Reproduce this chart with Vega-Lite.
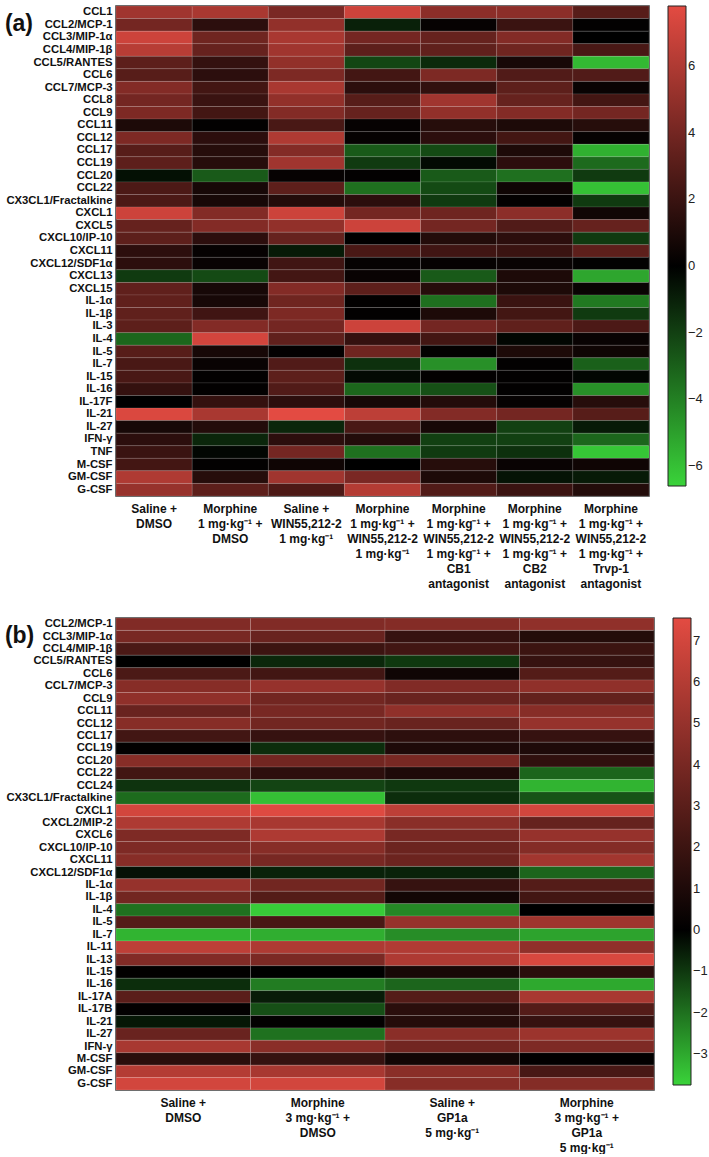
{
"$schema": "https://vega.github.io/schema/vega-lite/v6.json",
"background": "white",
"padding": {"left": 4, "right": 3, "top": 4, "bottom": 0},
"spacing": 26,
"datasets": {
"a": [
{"cytokine":"CCL1","treatment":"Saline +|DMSO","z":5.5},{"cytokine":"CCL1","treatment":"Morphine|1 mg·kg⁻¹ +|DMSO","z":5.8},{"cytokine":"CCL1","treatment":"Saline +|WIN55,212-2|1 mg·kg⁻¹","z":4.2},{"cytokine":"CCL1","treatment":"Morphine|1 mg·kg⁻¹ +|WIN55,212-2|1 mg·kg⁻¹","z":7.0},{"cytokine":"CCL1","treatment":"Morphine|1 mg·kg⁻¹ +|WIN55,212-2|1 mg·kg⁻¹ +|CB1|antagonist","z":4.8},{"cytokine":"CCL1","treatment":"Morphine|1 mg·kg⁻¹ +|WIN55,212-2|1 mg·kg⁻¹ +|CB2|antagonist","z":4.8},{"cytokine":"CCL1","treatment":"Morphine|1 mg·kg⁻¹ +|WIN55,212-2|1 mg·kg⁻¹ +|Trvp-1|antagonist","z":3.0},
{"cytokine":"CCL2/MCP-1","treatment":"Saline +|DMSO","z":4.0},{"cytokine":"CCL2/MCP-1","treatment":"Morphine|1 mg·kg⁻¹ +|DMSO","z":1.5},{"cytokine":"CCL2/MCP-1","treatment":"Saline +|WIN55,212-2|1 mg·kg⁻¹","z":5.0},{"cytokine":"CCL2/MCP-1","treatment":"Morphine|1 mg·kg⁻¹ +|WIN55,212-2|1 mg·kg⁻¹","z":-1.0},{"cytokine":"CCL2/MCP-1","treatment":"Morphine|1 mg·kg⁻¹ +|WIN55,212-2|1 mg·kg⁻¹ +|CB1|antagonist","z":0.2},{"cytokine":"CCL2/MCP-1","treatment":"Morphine|1 mg·kg⁻¹ +|WIN55,212-2|1 mg·kg⁻¹ +|CB2|antagonist","z":2.0},{"cytokine":"CCL2/MCP-1","treatment":"Morphine|1 mg·kg⁻¹ +|WIN55,212-2|1 mg·kg⁻¹ +|Trvp-1|antagonist","z":0.1},
{"cytokine":"CCL3/MIP-1α","treatment":"Saline +|DMSO","z":7.0},{"cytokine":"CCL3/MIP-1α","treatment":"Morphine|1 mg·kg⁻¹ +|DMSO","z":3.8},{"cytokine":"CCL3/MIP-1α","treatment":"Saline +|WIN55,212-2|1 mg·kg⁻¹","z":5.8},{"cytokine":"CCL3/MIP-1α","treatment":"Morphine|1 mg·kg⁻¹ +|WIN55,212-2|1 mg·kg⁻¹","z":4.0},{"cytokine":"CCL3/MIP-1α","treatment":"Morphine|1 mg·kg⁻¹ +|WIN55,212-2|1 mg·kg⁻¹ +|CB1|antagonist","z":3.5},{"cytokine":"CCL3/MIP-1α","treatment":"Morphine|1 mg·kg⁻¹ +|WIN55,212-2|1 mg·kg⁻¹ +|CB2|antagonist","z":4.5},{"cytokine":"CCL3/MIP-1α","treatment":"Morphine|1 mg·kg⁻¹ +|WIN55,212-2|1 mg·kg⁻¹ +|Trvp-1|antagonist","z":0.0},
{"cytokine":"CCL4/MIP-1β","treatment":"Saline +|DMSO","z":6.3},{"cytokine":"CCL4/MIP-1β","treatment":"Morphine|1 mg·kg⁻¹ +|DMSO","z":3.5},{"cytokine":"CCL4/MIP-1β","treatment":"Saline +|WIN55,212-2|1 mg·kg⁻¹","z":5.5},{"cytokine":"CCL4/MIP-1β","treatment":"Morphine|1 mg·kg⁻¹ +|WIN55,212-2|1 mg·kg⁻¹","z":3.2},{"cytokine":"CCL4/MIP-1β","treatment":"Morphine|1 mg·kg⁻¹ +|WIN55,212-2|1 mg·kg⁻¹ +|CB1|antagonist","z":3.3},{"cytokine":"CCL4/MIP-1β","treatment":"Morphine|1 mg·kg⁻¹ +|WIN55,212-2|1 mg·kg⁻¹ +|CB2|antagonist","z":3.8},{"cytokine":"CCL4/MIP-1β","treatment":"Morphine|1 mg·kg⁻¹ +|WIN55,212-2|1 mg·kg⁻¹ +|Trvp-1|antagonist","z":2.5},
{"cytokine":"CCL5/RANTES","treatment":"Saline +|DMSO","z":3.2},{"cytokine":"CCL5/RANTES","treatment":"Morphine|1 mg·kg⁻¹ +|DMSO","z":1.8},{"cytokine":"CCL5/RANTES","treatment":"Saline +|WIN55,212-2|1 mg·kg⁻¹","z":5.0},{"cytokine":"CCL5/RANTES","treatment":"Morphine|1 mg·kg⁻¹ +|WIN55,212-2|1 mg·kg⁻¹","z":-2.2},{"cytokine":"CCL5/RANTES","treatment":"Morphine|1 mg·kg⁻¹ +|WIN55,212-2|1 mg·kg⁻¹ +|CB1|antagonist","z":-1.3},{"cytokine":"CCL5/RANTES","treatment":"Morphine|1 mg·kg⁻¹ +|WIN55,212-2|1 mg·kg⁻¹ +|CB2|antagonist","z":0.8},{"cytokine":"CCL5/RANTES","treatment":"Morphine|1 mg·kg⁻¹ +|WIN55,212-2|1 mg·kg⁻¹ +|Trvp-1|antagonist","z":-5.8},
{"cytokine":"CCL6","treatment":"Saline +|DMSO","z":3.0},{"cytokine":"CCL6","treatment":"Morphine|1 mg·kg⁻¹ +|DMSO","z":1.5},{"cytokine":"CCL6","treatment":"Saline +|WIN55,212-2|1 mg·kg⁻¹","z":4.3},{"cytokine":"CCL6","treatment":"Morphine|1 mg·kg⁻¹ +|WIN55,212-2|1 mg·kg⁻¹","z":2.3},{"cytokine":"CCL6","treatment":"Morphine|1 mg·kg⁻¹ +|WIN55,212-2|1 mg·kg⁻¹ +|CB1|antagonist","z":4.3},{"cytokine":"CCL6","treatment":"Morphine|1 mg·kg⁻¹ +|WIN55,212-2|1 mg·kg⁻¹ +|CB2|antagonist","z":2.8},{"cytokine":"CCL6","treatment":"Morphine|1 mg·kg⁻¹ +|WIN55,212-2|1 mg·kg⁻¹ +|Trvp-1|antagonist","z":2.8},
{"cytokine":"CCL7/MCP-3","treatment":"Saline +|DMSO","z":4.5},{"cytokine":"CCL7/MCP-3","treatment":"Morphine|1 mg·kg⁻¹ +|DMSO","z":2.3},{"cytokine":"CCL7/MCP-3","treatment":"Saline +|WIN55,212-2|1 mg·kg⁻¹","z":5.8},{"cytokine":"CCL7/MCP-3","treatment":"Morphine|1 mg·kg⁻¹ +|WIN55,212-2|1 mg·kg⁻¹","z":1.5},{"cytokine":"CCL7/MCP-3","treatment":"Morphine|1 mg·kg⁻¹ +|WIN55,212-2|1 mg·kg⁻¹ +|CB1|antagonist","z":1.7},{"cytokine":"CCL7/MCP-3","treatment":"Morphine|1 mg·kg⁻¹ +|WIN55,212-2|1 mg·kg⁻¹ +|CB2|antagonist","z":3.2},{"cytokine":"CCL7/MCP-3","treatment":"Morphine|1 mg·kg⁻¹ +|WIN55,212-2|1 mg·kg⁻¹ +|Trvp-1|antagonist","z":0.3},
{"cytokine":"CCL8","treatment":"Saline +|DMSO","z":4.0},{"cytokine":"CCL8","treatment":"Morphine|1 mg·kg⁻¹ +|DMSO","z":2.0},{"cytokine":"CCL8","treatment":"Saline +|WIN55,212-2|1 mg·kg⁻¹","z":5.0},{"cytokine":"CCL8","treatment":"Morphine|1 mg·kg⁻¹ +|WIN55,212-2|1 mg·kg⁻¹","z":3.0},{"cytokine":"CCL8","treatment":"Morphine|1 mg·kg⁻¹ +|WIN55,212-2|1 mg·kg⁻¹ +|CB1|antagonist","z":5.5},{"cytokine":"CCL8","treatment":"Morphine|1 mg·kg⁻¹ +|WIN55,212-2|1 mg·kg⁻¹ +|CB2|antagonist","z":3.5},{"cytokine":"CCL8","treatment":"Morphine|1 mg·kg⁻¹ +|WIN55,212-2|1 mg·kg⁻¹ +|Trvp-1|antagonist","z":2.3},
{"cytokine":"CCL9","treatment":"Saline +|DMSO","z":4.3},{"cytokine":"CCL9","treatment":"Morphine|1 mg·kg⁻¹ +|DMSO","z":2.3},{"cytokine":"CCL9","treatment":"Saline +|WIN55,212-2|1 mg·kg⁻¹","z":4.5},{"cytokine":"CCL9","treatment":"Morphine|1 mg·kg⁻¹ +|WIN55,212-2|1 mg·kg⁻¹","z":3.5},{"cytokine":"CCL9","treatment":"Morphine|1 mg·kg⁻¹ +|WIN55,212-2|1 mg·kg⁻¹ +|CB1|antagonist","z":5.0},{"cytokine":"CCL9","treatment":"Morphine|1 mg·kg⁻¹ +|WIN55,212-2|1 mg·kg⁻¹ +|CB2|antagonist","z":4.5},{"cytokine":"CCL9","treatment":"Morphine|1 mg·kg⁻¹ +|WIN55,212-2|1 mg·kg⁻¹ +|Trvp-1|antagonist","z":4.0},
{"cytokine":"CCL11","treatment":"Saline +|DMSO","z":1.0},{"cytokine":"CCL11","treatment":"Morphine|1 mg·kg⁻¹ +|DMSO","z":0.1},{"cytokine":"CCL11","treatment":"Saline +|WIN55,212-2|1 mg·kg⁻¹","z":2.5},{"cytokine":"CCL11","treatment":"Morphine|1 mg·kg⁻¹ +|WIN55,212-2|1 mg·kg⁻¹","z":0.2},{"cytokine":"CCL11","treatment":"Morphine|1 mg·kg⁻¹ +|WIN55,212-2|1 mg·kg⁻¹ +|CB1|antagonist","z":1.3},{"cytokine":"CCL11","treatment":"Morphine|1 mg·kg⁻¹ +|WIN55,212-2|1 mg·kg⁻¹ +|CB2|antagonist","z":1.0},{"cytokine":"CCL11","treatment":"Morphine|1 mg·kg⁻¹ +|WIN55,212-2|1 mg·kg⁻¹ +|Trvp-1|antagonist","z":1.3},
{"cytokine":"CCL12","treatment":"Saline +|DMSO","z":4.3},{"cytokine":"CCL12","treatment":"Morphine|1 mg·kg⁻¹ +|DMSO","z":1.5},{"cytokine":"CCL12","treatment":"Saline +|WIN55,212-2|1 mg·kg⁻¹","z":6.0},{"cytokine":"CCL12","treatment":"Morphine|1 mg·kg⁻¹ +|WIN55,212-2|1 mg·kg⁻¹","z":0.2},{"cytokine":"CCL12","treatment":"Morphine|1 mg·kg⁻¹ +|WIN55,212-2|1 mg·kg⁻¹ +|CB1|antagonist","z":1.5},{"cytokine":"CCL12","treatment":"Morphine|1 mg·kg⁻¹ +|WIN55,212-2|1 mg·kg⁻¹ +|CB2|antagonist","z":2.3},{"cytokine":"CCL12","treatment":"Morphine|1 mg·kg⁻¹ +|WIN55,212-2|1 mg·kg⁻¹ +|Trvp-1|antagonist","z":0.2},
{"cytokine":"CCL17","treatment":"Saline +|DMSO","z":3.0},{"cytokine":"CCL17","treatment":"Morphine|1 mg·kg⁻¹ +|DMSO","z":1.3},{"cytokine":"CCL17","treatment":"Saline +|WIN55,212-2|1 mg·kg⁻¹","z":4.5},{"cytokine":"CCL17","treatment":"Morphine|1 mg·kg⁻¹ +|WIN55,212-2|1 mg·kg⁻¹","z":-2.8},{"cytokine":"CCL17","treatment":"Morphine|1 mg·kg⁻¹ +|WIN55,212-2|1 mg·kg⁻¹ +|CB1|antagonist","z":-2.3},{"cytokine":"CCL17","treatment":"Morphine|1 mg·kg⁻¹ +|WIN55,212-2|1 mg·kg⁻¹ +|CB2|antagonist","z":1.0},{"cytokine":"CCL17","treatment":"Morphine|1 mg·kg⁻¹ +|WIN55,212-2|1 mg·kg⁻¹ +|Trvp-1|antagonist","z":-5.5},
{"cytokine":"CCL19","treatment":"Saline +|DMSO","z":3.2},{"cytokine":"CCL19","treatment":"Morphine|1 mg·kg⁻¹ +|DMSO","z":1.3},{"cytokine":"CCL19","treatment":"Saline +|WIN55,212-2|1 mg·kg⁻¹","z":5.5},{"cytokine":"CCL19","treatment":"Morphine|1 mg·kg⁻¹ +|WIN55,212-2|1 mg·kg⁻¹","z":-1.8},{"cytokine":"CCL19","treatment":"Morphine|1 mg·kg⁻¹ +|WIN55,212-2|1 mg·kg⁻¹ +|CB1|antagonist","z":-0.3},{"cytokine":"CCL19","treatment":"Morphine|1 mg·kg⁻¹ +|WIN55,212-2|1 mg·kg⁻¹ +|CB2|antagonist","z":1.5},{"cytokine":"CCL19","treatment":"Morphine|1 mg·kg⁻¹ +|WIN55,212-2|1 mg·kg⁻¹ +|Trvp-1|antagonist","z":-3.3},
{"cytokine":"CCL20","treatment":"Saline +|DMSO","z":-0.5},{"cytokine":"CCL20","treatment":"Morphine|1 mg·kg⁻¹ +|DMSO","z":-2.8},{"cytokine":"CCL20","treatment":"Saline +|WIN55,212-2|1 mg·kg⁻¹","z":0.2},{"cytokine":"CCL20","treatment":"Morphine|1 mg·kg⁻¹ +|WIN55,212-2|1 mg·kg⁻¹","z":0.1},{"cytokine":"CCL20","treatment":"Morphine|1 mg·kg⁻¹ +|WIN55,212-2|1 mg·kg⁻¹ +|CB1|antagonist","z":-2.8},{"cytokine":"CCL20","treatment":"Morphine|1 mg·kg⁻¹ +|WIN55,212-2|1 mg·kg⁻¹ +|CB2|antagonist","z":-3.5},{"cytokine":"CCL20","treatment":"Morphine|1 mg·kg⁻¹ +|WIN55,212-2|1 mg·kg⁻¹ +|Trvp-1|antagonist","z":-1.8},
{"cytokine":"CCL22","treatment":"Saline +|DMSO","z":2.6},{"cytokine":"CCL22","treatment":"Morphine|1 mg·kg⁻¹ +|DMSO","z":0.8},{"cytokine":"CCL22","treatment":"Saline +|WIN55,212-2|1 mg·kg⁻¹","z":3.2},{"cytokine":"CCL22","treatment":"Morphine|1 mg·kg⁻¹ +|WIN55,212-2|1 mg·kg⁻¹","z":-3.5},{"cytokine":"CCL22","treatment":"Morphine|1 mg·kg⁻¹ +|WIN55,212-2|1 mg·kg⁻¹ +|CB1|antagonist","z":-2.3},{"cytokine":"CCL22","treatment":"Morphine|1 mg·kg⁻¹ +|WIN55,212-2|1 mg·kg⁻¹ +|CB2|antagonist","z":0.5},{"cytokine":"CCL22","treatment":"Morphine|1 mg·kg⁻¹ +|WIN55,212-2|1 mg·kg⁻¹ +|Trvp-1|antagonist","z":-6.0},
{"cytokine":"CX3CL1/Fractalkine","treatment":"Saline +|DMSO","z":2.6},{"cytokine":"CX3CL1/Fractalkine","treatment":"Morphine|1 mg·kg⁻¹ +|DMSO","z":0.8},{"cytokine":"CX3CL1/Fractalkine","treatment":"Saline +|WIN55,212-2|1 mg·kg⁻¹","z":1.2},{"cytokine":"CX3CL1/Fractalkine","treatment":"Morphine|1 mg·kg⁻¹ +|WIN55,212-2|1 mg·kg⁻¹","z":1.5},{"cytokine":"CX3CL1/Fractalkine","treatment":"Morphine|1 mg·kg⁻¹ +|WIN55,212-2|1 mg·kg⁻¹ +|CB1|antagonist","z":-1.8},{"cytokine":"CX3CL1/Fractalkine","treatment":"Morphine|1 mg·kg⁻¹ +|WIN55,212-2|1 mg·kg⁻¹ +|CB2|antagonist","z":0.1},{"cytokine":"CX3CL1/Fractalkine","treatment":"Morphine|1 mg·kg⁻¹ +|WIN55,212-2|1 mg·kg⁻¹ +|Trvp-1|antagonist","z":-1.8},
{"cytokine":"CXCL1","treatment":"Saline +|DMSO","z":7.0},{"cytokine":"CXCL1","treatment":"Morphine|1 mg·kg⁻¹ +|DMSO","z":4.5},{"cytokine":"CXCL1","treatment":"Saline +|WIN55,212-2|1 mg·kg⁻¹","z":7.0},{"cytokine":"CXCL1","treatment":"Morphine|1 mg·kg⁻¹ +|WIN55,212-2|1 mg·kg⁻¹","z":4.0},{"cytokine":"CXCL1","treatment":"Morphine|1 mg·kg⁻¹ +|WIN55,212-2|1 mg·kg⁻¹ +|CB1|antagonist","z":3.8},{"cytokine":"CXCL1","treatment":"Morphine|1 mg·kg⁻¹ +|WIN55,212-2|1 mg·kg⁻¹ +|CB2|antagonist","z":4.8},{"cytokine":"CXCL1","treatment":"Morphine|1 mg·kg⁻¹ +|WIN55,212-2|1 mg·kg⁻¹ +|Trvp-1|antagonist","z":0.6},
{"cytokine":"CXCL5","treatment":"Saline +|DMSO","z":3.5},{"cytokine":"CXCL5","treatment":"Morphine|1 mg·kg⁻¹ +|DMSO","z":4.5},{"cytokine":"CXCL5","treatment":"Saline +|WIN55,212-2|1 mg·kg⁻¹","z":5.0},{"cytokine":"CXCL5","treatment":"Morphine|1 mg·kg⁻¹ +|WIN55,212-2|1 mg·kg⁻¹","z":7.0},{"cytokine":"CXCL5","treatment":"Morphine|1 mg·kg⁻¹ +|WIN55,212-2|1 mg·kg⁻¹ +|CB1|antagonist","z":4.0},{"cytokine":"CXCL5","treatment":"Morphine|1 mg·kg⁻¹ +|WIN55,212-2|1 mg·kg⁻¹ +|CB2|antagonist","z":2.8},{"cytokine":"CXCL5","treatment":"Morphine|1 mg·kg⁻¹ +|WIN55,212-2|1 mg·kg⁻¹ +|Trvp-1|antagonist","z":3.5},
{"cytokine":"CXCL10/IP-10","treatment":"Saline +|DMSO","z":3.2},{"cytokine":"CXCL10/IP-10","treatment":"Morphine|1 mg·kg⁻¹ +|DMSO","z":1.5},{"cytokine":"CXCL10/IP-10","treatment":"Saline +|WIN55,212-2|1 mg·kg⁻¹","z":3.5},{"cytokine":"CXCL10/IP-10","treatment":"Morphine|1 mg·kg⁻¹ +|WIN55,212-2|1 mg·kg⁻¹","z":0.0},{"cytokine":"CXCL10/IP-10","treatment":"Morphine|1 mg·kg⁻¹ +|WIN55,212-2|1 mg·kg⁻¹ +|CB1|antagonist","z":1.2},{"cytokine":"CXCL10/IP-10","treatment":"Morphine|1 mg·kg⁻¹ +|WIN55,212-2|1 mg·kg⁻¹ +|CB2|antagonist","z":1.5},{"cytokine":"CXCL10/IP-10","treatment":"Morphine|1 mg·kg⁻¹ +|WIN55,212-2|1 mg·kg⁻¹ +|Trvp-1|antagonist","z":-1.8},
{"cytokine":"CXCL11","treatment":"Saline +|DMSO","z":1.5},{"cytokine":"CXCL11","treatment":"Morphine|1 mg·kg⁻¹ +|DMSO","z":0.2},{"cytokine":"CXCL11","treatment":"Saline +|WIN55,212-2|1 mg·kg⁻¹","z":-0.8},{"cytokine":"CXCL11","treatment":"Morphine|1 mg·kg⁻¹ +|WIN55,212-2|1 mg·kg⁻¹","z":2.5},{"cytokine":"CXCL11","treatment":"Morphine|1 mg·kg⁻¹ +|WIN55,212-2|1 mg·kg⁻¹ +|CB1|antagonist","z":2.2},{"cytokine":"CXCL11","treatment":"Morphine|1 mg·kg⁻¹ +|WIN55,212-2|1 mg·kg⁻¹ +|CB2|antagonist","z":2.0},{"cytokine":"CXCL11","treatment":"Morphine|1 mg·kg⁻¹ +|WIN55,212-2|1 mg·kg⁻¹ +|Trvp-1|antagonist","z":3.2},
{"cytokine":"CXCL12/SDF1α","treatment":"Saline +|DMSO","z":1.5},{"cytokine":"CXCL12/SDF1α","treatment":"Morphine|1 mg·kg⁻¹ +|DMSO","z":0.3},{"cytokine":"CXCL12/SDF1α","treatment":"Saline +|WIN55,212-2|1 mg·kg⁻¹","z":2.2},{"cytokine":"CXCL12/SDF1α","treatment":"Morphine|1 mg·kg⁻¹ +|WIN55,212-2|1 mg·kg⁻¹","z":0.2},{"cytokine":"CXCL12/SDF1α","treatment":"Morphine|1 mg·kg⁻¹ +|WIN55,212-2|1 mg·kg⁻¹ +|CB1|antagonist","z":0.2},{"cytokine":"CXCL12/SDF1α","treatment":"Morphine|1 mg·kg⁻¹ +|WIN55,212-2|1 mg·kg⁻¹ +|CB2|antagonist","z":0.3},{"cytokine":"CXCL12/SDF1α","treatment":"Morphine|1 mg·kg⁻¹ +|WIN55,212-2|1 mg·kg⁻¹ +|Trvp-1|antagonist","z":0.1},
{"cytokine":"CXCL13","treatment":"Saline +|DMSO","z":-1.8},{"cytokine":"CXCL13","treatment":"Morphine|1 mg·kg⁻¹ +|DMSO","z":-2.3},{"cytokine":"CXCL13","treatment":"Saline +|WIN55,212-2|1 mg·kg⁻¹","z":2.3},{"cytokine":"CXCL13","treatment":"Morphine|1 mg·kg⁻¹ +|WIN55,212-2|1 mg·kg⁻¹","z":0.3},{"cytokine":"CXCL13","treatment":"Morphine|1 mg·kg⁻¹ +|WIN55,212-2|1 mg·kg⁻¹ +|CB1|antagonist","z":-2.8},{"cytokine":"CXCL13","treatment":"Morphine|1 mg·kg⁻¹ +|WIN55,212-2|1 mg·kg⁻¹ +|CB2|antagonist","z":1.0},{"cytokine":"CXCL13","treatment":"Morphine|1 mg·kg⁻¹ +|WIN55,212-2|1 mg·kg⁻¹ +|Trvp-1|antagonist","z":-5.2},
{"cytokine":"CXCL15","treatment":"Saline +|DMSO","z":3.3},{"cytokine":"CXCL15","treatment":"Morphine|1 mg·kg⁻¹ +|DMSO","z":0.8},{"cytokine":"CXCL15","treatment":"Saline +|WIN55,212-2|1 mg·kg⁻¹","z":4.5},{"cytokine":"CXCL15","treatment":"Morphine|1 mg·kg⁻¹ +|WIN55,212-2|1 mg·kg⁻¹","z":3.2},{"cytokine":"CXCL15","treatment":"Morphine|1 mg·kg⁻¹ +|WIN55,212-2|1 mg·kg⁻¹ +|CB1|antagonist","z":1.3},{"cytokine":"CXCL15","treatment":"Morphine|1 mg·kg⁻¹ +|WIN55,212-2|1 mg·kg⁻¹ +|CB2|antagonist","z":1.0},{"cytokine":"CXCL15","treatment":"Morphine|1 mg·kg⁻¹ +|WIN55,212-2|1 mg·kg⁻¹ +|Trvp-1|antagonist","z":0.3},
{"cytokine":"IL-1α","treatment":"Saline +|DMSO","z":3.3},{"cytokine":"IL-1α","treatment":"Morphine|1 mg·kg⁻¹ +|DMSO","z":0.8},{"cytokine":"IL-1α","treatment":"Saline +|WIN55,212-2|1 mg·kg⁻¹","z":3.8},{"cytokine":"IL-1α","treatment":"Morphine|1 mg·kg⁻¹ +|WIN55,212-2|1 mg·kg⁻¹","z":0.1},{"cytokine":"IL-1α","treatment":"Morphine|1 mg·kg⁻¹ +|WIN55,212-2|1 mg·kg⁻¹ +|CB1|antagonist","z":-3.5},{"cytokine":"IL-1α","treatment":"Morphine|1 mg·kg⁻¹ +|WIN55,212-2|1 mg·kg⁻¹ +|CB2|antagonist","z":2.0},{"cytokine":"IL-1α","treatment":"Morphine|1 mg·kg⁻¹ +|WIN55,212-2|1 mg·kg⁻¹ +|Trvp-1|antagonist","z":-3.8},
{"cytokine":"IL-1β","treatment":"Saline +|DMSO","z":3.3},{"cytokine":"IL-1β","treatment":"Morphine|1 mg·kg⁻¹ +|DMSO","z":2.2},{"cytokine":"IL-1β","treatment":"Saline +|WIN55,212-2|1 mg·kg⁻¹","z":4.3},{"cytokine":"IL-1β","treatment":"Morphine|1 mg·kg⁻¹ +|WIN55,212-2|1 mg·kg⁻¹","z":0.1},{"cytokine":"IL-1β","treatment":"Morphine|1 mg·kg⁻¹ +|WIN55,212-2|1 mg·kg⁻¹ +|CB1|antagonist","z":1.0},{"cytokine":"IL-1β","treatment":"Morphine|1 mg·kg⁻¹ +|WIN55,212-2|1 mg·kg⁻¹ +|CB2|antagonist","z":2.3},{"cytokine":"IL-1β","treatment":"Morphine|1 mg·kg⁻¹ +|WIN55,212-2|1 mg·kg⁻¹ +|Trvp-1|antagonist","z":-1.8},
{"cytokine":"IL-3","treatment":"Saline +|DMSO","z":3.2},{"cytokine":"IL-3","treatment":"Morphine|1 mg·kg⁻¹ +|DMSO","z":4.5},{"cytokine":"IL-3","treatment":"Saline +|WIN55,212-2|1 mg·kg⁻¹","z":4.0},{"cytokine":"IL-3","treatment":"Morphine|1 mg·kg⁻¹ +|WIN55,212-2|1 mg·kg⁻¹","z":7.0},{"cytokine":"IL-3","treatment":"Morphine|1 mg·kg⁻¹ +|WIN55,212-2|1 mg·kg⁻¹ +|CB1|antagonist","z":4.0},{"cytokine":"IL-3","treatment":"Morphine|1 mg·kg⁻¹ +|WIN55,212-2|1 mg·kg⁻¹ +|CB2|antagonist","z":3.3},{"cytokine":"IL-3","treatment":"Morphine|1 mg·kg⁻¹ +|WIN55,212-2|1 mg·kg⁻¹ +|Trvp-1|antagonist","z":2.6},
{"cytokine":"IL-4","treatment":"Saline +|DMSO","z":-3.2},{"cytokine":"IL-4","treatment":"Morphine|1 mg·kg⁻¹ +|DMSO","z":7.2},{"cytokine":"IL-4","treatment":"Saline +|WIN55,212-2|1 mg·kg⁻¹","z":3.3},{"cytokine":"IL-4","treatment":"Morphine|1 mg·kg⁻¹ +|WIN55,212-2|1 mg·kg⁻¹","z":1.8},{"cytokine":"IL-4","treatment":"Morphine|1 mg·kg⁻¹ +|WIN55,212-2|1 mg·kg⁻¹ +|CB1|antagonist","z":2.3},{"cytokine":"IL-4","treatment":"Morphine|1 mg·kg⁻¹ +|WIN55,212-2|1 mg·kg⁻¹ +|CB2|antagonist","z":-0.2},{"cytokine":"IL-4","treatment":"Morphine|1 mg·kg⁻¹ +|WIN55,212-2|1 mg·kg⁻¹ +|Trvp-1|antagonist","z":0.3},
{"cytokine":"IL-5","treatment":"Saline +|DMSO","z":3.0},{"cytokine":"IL-5","treatment":"Morphine|1 mg·kg⁻¹ +|DMSO","z":0.8},{"cytokine":"IL-5","treatment":"Saline +|WIN55,212-2|1 mg·kg⁻¹","z":0.1},{"cytokine":"IL-5","treatment":"Morphine|1 mg·kg⁻¹ +|WIN55,212-2|1 mg·kg⁻¹","z":3.8},{"cytokine":"IL-5","treatment":"Morphine|1 mg·kg⁻¹ +|WIN55,212-2|1 mg·kg⁻¹ +|CB1|antagonist","z":0.1},{"cytokine":"IL-5","treatment":"Morphine|1 mg·kg⁻¹ +|WIN55,212-2|1 mg·kg⁻¹ +|CB2|antagonist","z":1.0},{"cytokine":"IL-5","treatment":"Morphine|1 mg·kg⁻¹ +|WIN55,212-2|1 mg·kg⁻¹ +|Trvp-1|antagonist","z":0.5},
{"cytokine":"IL-7","treatment":"Saline +|DMSO","z":2.5},{"cytokine":"IL-7","treatment":"Morphine|1 mg·kg⁻¹ +|DMSO","z":0.3},{"cytokine":"IL-7","treatment":"Saline +|WIN55,212-2|1 mg·kg⁻¹","z":2.8},{"cytokine":"IL-7","treatment":"Morphine|1 mg·kg⁻¹ +|WIN55,212-2|1 mg·kg⁻¹","z":-1.5},{"cytokine":"IL-7","treatment":"Morphine|1 mg·kg⁻¹ +|WIN55,212-2|1 mg·kg⁻¹ +|CB1|antagonist","z":-4.5},{"cytokine":"IL-7","treatment":"Morphine|1 mg·kg⁻¹ +|WIN55,212-2|1 mg·kg⁻¹ +|CB2|antagonist","z":0.1},{"cytokine":"IL-7","treatment":"Morphine|1 mg·kg⁻¹ +|WIN55,212-2|1 mg·kg⁻¹ +|Trvp-1|antagonist","z":-3.0},
{"cytokine":"IL-15","treatment":"Saline +|DMSO","z":2.5},{"cytokine":"IL-15","treatment":"Morphine|1 mg·kg⁻¹ +|DMSO","z":0.1},{"cytokine":"IL-15","treatment":"Saline +|WIN55,212-2|1 mg·kg⁻¹","z":3.2},{"cytokine":"IL-15","treatment":"Morphine|1 mg·kg⁻¹ +|WIN55,212-2|1 mg·kg⁻¹","z":-0.3},{"cytokine":"IL-15","treatment":"Morphine|1 mg·kg⁻¹ +|WIN55,212-2|1 mg·kg⁻¹ +|CB1|antagonist","z":0.1},{"cytokine":"IL-15","treatment":"Morphine|1 mg·kg⁻¹ +|WIN55,212-2|1 mg·kg⁻¹ +|CB2|antagonist","z":0.1},{"cytokine":"IL-15","treatment":"Morphine|1 mg·kg⁻¹ +|WIN55,212-2|1 mg·kg⁻¹ +|Trvp-1|antagonist","z":-0.2},
{"cytokine":"IL-16","treatment":"Saline +|DMSO","z":1.8},{"cytokine":"IL-16","treatment":"Morphine|1 mg·kg⁻¹ +|DMSO","z":0.1},{"cytokine":"IL-16","treatment":"Saline +|WIN55,212-2|1 mg·kg⁻¹","z":2.8},{"cytokine":"IL-16","treatment":"Morphine|1 mg·kg⁻¹ +|WIN55,212-2|1 mg·kg⁻¹","z":-3.2},{"cytokine":"IL-16","treatment":"Morphine|1 mg·kg⁻¹ +|WIN55,212-2|1 mg·kg⁻¹ +|CB1|antagonist","z":-2.5},{"cytokine":"IL-16","treatment":"Morphine|1 mg·kg⁻¹ +|WIN55,212-2|1 mg·kg⁻¹ +|CB2|antagonist","z":0.1},{"cytokine":"IL-16","treatment":"Morphine|1 mg·kg⁻¹ +|WIN55,212-2|1 mg·kg⁻¹ +|Trvp-1|antagonist","z":-4.5},
{"cytokine":"IL-17F","treatment":"Saline +|DMSO","z":0.0},{"cytokine":"IL-17F","treatment":"Morphine|1 mg·kg⁻¹ +|DMSO","z":1.8},{"cytokine":"IL-17F","treatment":"Saline +|WIN55,212-2|1 mg·kg⁻¹","z":1.5},{"cytokine":"IL-17F","treatment":"Morphine|1 mg·kg⁻¹ +|WIN55,212-2|1 mg·kg⁻¹","z":0.8},{"cytokine":"IL-17F","treatment":"Morphine|1 mg·kg⁻¹ +|WIN55,212-2|1 mg·kg⁻¹ +|CB1|antagonist","z":1.2},{"cytokine":"IL-17F","treatment":"Morphine|1 mg·kg⁻¹ +|WIN55,212-2|1 mg·kg⁻¹ +|CB2|antagonist","z":0.2},{"cytokine":"IL-17F","treatment":"Morphine|1 mg·kg⁻¹ +|WIN55,212-2|1 mg·kg⁻¹ +|Trvp-1|antagonist","z":1.3},
{"cytokine":"IL-21","treatment":"Saline +|DMSO","z":7.5},{"cytokine":"IL-21","treatment":"Morphine|1 mg·kg⁻¹ +|DMSO","z":5.8},{"cytokine":"IL-21","treatment":"Saline +|WIN55,212-2|1 mg·kg⁻¹","z":7.8},{"cytokine":"IL-21","treatment":"Morphine|1 mg·kg⁻¹ +|WIN55,212-2|1 mg·kg⁻¹","z":6.5},{"cytokine":"IL-21","treatment":"Morphine|1 mg·kg⁻¹ +|WIN55,212-2|1 mg·kg⁻¹ +|CB1|antagonist","z":4.5},{"cytokine":"IL-21","treatment":"Morphine|1 mg·kg⁻¹ +|WIN55,212-2|1 mg·kg⁻¹ +|CB2|antagonist","z":4.0},{"cytokine":"IL-21","treatment":"Morphine|1 mg·kg⁻¹ +|WIN55,212-2|1 mg·kg⁻¹ +|Trvp-1|antagonist","z":3.0},
{"cytokine":"IL-27","treatment":"Saline +|DMSO","z":0.8},{"cytokine":"IL-27","treatment":"Morphine|1 mg·kg⁻¹ +|DMSO","z":1.2},{"cytokine":"IL-27","treatment":"Saline +|WIN55,212-2|1 mg·kg⁻¹","z":-1.2},{"cytokine":"IL-27","treatment":"Morphine|1 mg·kg⁻¹ +|WIN55,212-2|1 mg·kg⁻¹","z":2.5},{"cytokine":"IL-27","treatment":"Morphine|1 mg·kg⁻¹ +|WIN55,212-2|1 mg·kg⁻¹ +|CB1|antagonist","z":0.8},{"cytokine":"IL-27","treatment":"Morphine|1 mg·kg⁻¹ +|WIN55,212-2|1 mg·kg⁻¹ +|CB2|antagonist","z":-2.0},{"cytokine":"IL-27","treatment":"Morphine|1 mg·kg⁻¹ +|WIN55,212-2|1 mg·kg⁻¹ +|Trvp-1|antagonist","z":-0.8},
{"cytokine":"IFN-γ","treatment":"Saline +|DMSO","z":1.5},{"cytokine":"IFN-γ","treatment":"Morphine|1 mg·kg⁻¹ +|DMSO","z":-1.2},{"cytokine":"IFN-γ","treatment":"Saline +|WIN55,212-2|1 mg·kg⁻¹","z":1.5},{"cytokine":"IFN-γ","treatment":"Morphine|1 mg·kg⁻¹ +|WIN55,212-2|1 mg·kg⁻¹","z":1.2},{"cytokine":"IFN-γ","treatment":"Morphine|1 mg·kg⁻¹ +|WIN55,212-2|1 mg·kg⁻¹ +|CB1|antagonist","z":-2.0},{"cytokine":"IFN-γ","treatment":"Morphine|1 mg·kg⁻¹ +|WIN55,212-2|1 mg·kg⁻¹ +|CB2|antagonist","z":-2.0},{"cytokine":"IFN-γ","treatment":"Morphine|1 mg·kg⁻¹ +|WIN55,212-2|1 mg·kg⁻¹ +|Trvp-1|antagonist","z":-3.2},
{"cytokine":"TNF","treatment":"Saline +|DMSO","z":2.0},{"cytokine":"TNF","treatment":"Morphine|1 mg·kg⁻¹ +|DMSO","z":-0.2},{"cytokine":"TNF","treatment":"Saline +|WIN55,212-2|1 mg·kg⁻¹","z":4.0},{"cytokine":"TNF","treatment":"Morphine|1 mg·kg⁻¹ +|WIN55,212-2|1 mg·kg⁻¹","z":-3.5},{"cytokine":"TNF","treatment":"Morphine|1 mg·kg⁻¹ +|WIN55,212-2|1 mg·kg⁻¹ +|CB1|antagonist","z":-1.8},{"cytokine":"TNF","treatment":"Morphine|1 mg·kg⁻¹ +|WIN55,212-2|1 mg·kg⁻¹ +|CB2|antagonist","z":-1.5},{"cytokine":"TNF","treatment":"Morphine|1 mg·kg⁻¹ +|WIN55,212-2|1 mg·kg⁻¹ +|Trvp-1|antagonist","z":-6.2},
{"cytokine":"M-CSF","treatment":"Saline +|DMSO","z":2.3},{"cytokine":"M-CSF","treatment":"Morphine|1 mg·kg⁻¹ +|DMSO","z":0.1},{"cytokine":"M-CSF","treatment":"Saline +|WIN55,212-2|1 mg·kg⁻¹","z":0.5},{"cytokine":"M-CSF","treatment":"Morphine|1 mg·kg⁻¹ +|WIN55,212-2|1 mg·kg⁻¹","z":0.0},{"cytokine":"M-CSF","treatment":"Morphine|1 mg·kg⁻¹ +|WIN55,212-2|1 mg·kg⁻¹ +|CB1|antagonist","z":1.3},{"cytokine":"M-CSF","treatment":"Morphine|1 mg·kg⁻¹ +|WIN55,212-2|1 mg·kg⁻¹ +|CB2|antagonist","z":0.3},{"cytokine":"M-CSF","treatment":"Morphine|1 mg·kg⁻¹ +|WIN55,212-2|1 mg·kg⁻¹ +|Trvp-1|antagonist","z":0.5},
{"cytokine":"GM-CSF","treatment":"Saline +|DMSO","z":6.0},{"cytokine":"GM-CSF","treatment":"Morphine|1 mg·kg⁻¹ +|DMSO","z":1.3},{"cytokine":"GM-CSF","treatment":"Saline +|WIN55,212-2|1 mg·kg⁻¹","z":5.5},{"cytokine":"GM-CSF","treatment":"Morphine|1 mg·kg⁻¹ +|WIN55,212-2|1 mg·kg⁻¹","z":4.2},{"cytokine":"GM-CSF","treatment":"Morphine|1 mg·kg⁻¹ +|WIN55,212-2|1 mg·kg⁻¹ +|CB1|antagonist","z":1.0},{"cytokine":"GM-CSF","treatment":"Morphine|1 mg·kg⁻¹ +|WIN55,212-2|1 mg·kg⁻¹ +|CB2|antagonist","z":-0.6},{"cytokine":"GM-CSF","treatment":"Morphine|1 mg·kg⁻¹ +|WIN55,212-2|1 mg·kg⁻¹ +|Trvp-1|antagonist","z":-0.8},
{"cytokine":"G-CSF","treatment":"Saline +|DMSO","z":5.2},{"cytokine":"G-CSF","treatment":"Morphine|1 mg·kg⁻¹ +|DMSO","z":3.2},{"cytokine":"G-CSF","treatment":"Saline +|WIN55,212-2|1 mg·kg⁻¹","z":2.6},{"cytokine":"G-CSF","treatment":"Morphine|1 mg·kg⁻¹ +|WIN55,212-2|1 mg·kg⁻¹","z":6.2},{"cytokine":"G-CSF","treatment":"Morphine|1 mg·kg⁻¹ +|WIN55,212-2|1 mg·kg⁻¹ +|CB1|antagonist","z":2.8},{"cytokine":"G-CSF","treatment":"Morphine|1 mg·kg⁻¹ +|WIN55,212-2|1 mg·kg⁻¹ +|CB2|antagonist","z":2.0},{"cytokine":"G-CSF","treatment":"Morphine|1 mg·kg⁻¹ +|WIN55,212-2|1 mg·kg⁻¹ +|Trvp-1|antagonist","z":1.2}
],
"b": [
{"cytokine":"CCL2/MCP-1","treatment":"Saline +|DMSO","z":4.3},{"cytokine":"CCL2/MCP-1","treatment":"Morphine|3 mg·kg⁻¹ +|DMSO","z":4.3},{"cytokine":"CCL2/MCP-1","treatment":"Saline +|GP1a|5 mg·kg⁻¹","z":4.4},{"cytokine":"CCL2/MCP-1","treatment":"Morphine|3 mg·kg⁻¹ +|GP1a|5 mg·kg⁻¹","z":4.8},
{"cytokine":"CCL3/MIP-1α","treatment":"Saline +|DMSO","z":4.0},{"cytokine":"CCL3/MIP-1α","treatment":"Morphine|3 mg·kg⁻¹ +|DMSO","z":3.5},{"cytokine":"CCL3/MIP-1α","treatment":"Saline +|GP1a|5 mg·kg⁻¹","z":1.8},{"cytokine":"CCL3/MIP-1α","treatment":"Morphine|3 mg·kg⁻¹ +|GP1a|5 mg·kg⁻¹","z":1.2},
{"cytokine":"CCL4/MIP-1β","treatment":"Saline +|DMSO","z":2.5},{"cytokine":"CCL4/MIP-1β","treatment":"Morphine|3 mg·kg⁻¹ +|DMSO","z":2.0},{"cytokine":"CCL4/MIP-1β","treatment":"Saline +|GP1a|5 mg·kg⁻¹","z":2.2},{"cytokine":"CCL4/MIP-1β","treatment":"Morphine|3 mg·kg⁻¹ +|GP1a|5 mg·kg⁻¹","z":2.0},
{"cytokine":"CCL5/RANTES","treatment":"Saline +|DMSO","z":0.0},{"cytokine":"CCL5/RANTES","treatment":"Morphine|3 mg·kg⁻¹ +|DMSO","z":-0.7},{"cytokine":"CCL5/RANTES","treatment":"Saline +|GP1a|5 mg·kg⁻¹","z":-1.0},{"cytokine":"CCL5/RANTES","treatment":"Morphine|3 mg·kg⁻¹ +|GP1a|5 mg·kg⁻¹","z":1.8},
{"cytokine":"CCL6","treatment":"Saline +|DMSO","z":2.5},{"cytokine":"CCL6","treatment":"Morphine|3 mg·kg⁻¹ +|DMSO","z":2.2},{"cytokine":"CCL6","treatment":"Saline +|GP1a|5 mg·kg⁻¹","z":0.5},{"cytokine":"CCL6","treatment":"Morphine|3 mg·kg⁻¹ +|GP1a|5 mg·kg⁻¹","z":2.8},
{"cytokine":"CCL7/MCP-3","treatment":"Saline +|DMSO","z":4.5},{"cytokine":"CCL7/MCP-3","treatment":"Morphine|3 mg·kg⁻¹ +|DMSO","z":5.0},{"cytokine":"CCL7/MCP-3","treatment":"Saline +|GP1a|5 mg·kg⁻¹","z":4.3},{"cytokine":"CCL7/MCP-3","treatment":"Morphine|3 mg·kg⁻¹ +|GP1a|5 mg·kg⁻¹","z":4.8},
{"cytokine":"CCL9","treatment":"Saline +|DMSO","z":4.8},{"cytokine":"CCL9","treatment":"Morphine|3 mg·kg⁻¹ +|DMSO","z":3.8},{"cytokine":"CCL9","treatment":"Saline +|GP1a|5 mg·kg⁻¹","z":3.5},{"cytokine":"CCL9","treatment":"Morphine|3 mg·kg⁻¹ +|GP1a|5 mg·kg⁻¹","z":3.3},
{"cytokine":"CCL11","treatment":"Saline +|DMSO","z":3.5},{"cytokine":"CCL11","treatment":"Morphine|3 mg·kg⁻¹ +|DMSO","z":4.0},{"cytokine":"CCL11","treatment":"Saline +|GP1a|5 mg·kg⁻¹","z":4.8},{"cytokine":"CCL11","treatment":"Morphine|3 mg·kg⁻¹ +|GP1a|5 mg·kg⁻¹","z":4.5},
{"cytokine":"CCL12","treatment":"Saline +|DMSO","z":4.5},{"cytokine":"CCL12","treatment":"Morphine|3 mg·kg⁻¹ +|DMSO","z":3.8},{"cytokine":"CCL12","treatment":"Saline +|GP1a|5 mg·kg⁻¹","z":3.5},{"cytokine":"CCL12","treatment":"Morphine|3 mg·kg⁻¹ +|GP1a|5 mg·kg⁻¹","z":5.0},
{"cytokine":"CCL17","treatment":"Saline +|DMSO","z":2.2},{"cytokine":"CCL17","treatment":"Morphine|3 mg·kg⁻¹ +|DMSO","z":1.8},{"cytokine":"CCL17","treatment":"Saline +|GP1a|5 mg·kg⁻¹","z":1.5},{"cytokine":"CCL17","treatment":"Morphine|3 mg·kg⁻¹ +|GP1a|5 mg·kg⁻¹","z":1.8},
{"cytokine":"CCL19","treatment":"Saline +|DMSO","z":0.1},{"cytokine":"CCL19","treatment":"Morphine|3 mg·kg⁻¹ +|DMSO","z":-0.8},{"cytokine":"CCL19","treatment":"Saline +|GP1a|5 mg·kg⁻¹","z":1.0},{"cytokine":"CCL19","treatment":"Morphine|3 mg·kg⁻¹ +|GP1a|5 mg·kg⁻¹","z":1.0},
{"cytokine":"CCL20","treatment":"Saline +|DMSO","z":4.5},{"cytokine":"CCL20","treatment":"Morphine|3 mg·kg⁻¹ +|DMSO","z":3.8},{"cytokine":"CCL20","treatment":"Saline +|GP1a|5 mg·kg⁻¹","z":4.0},{"cytokine":"CCL20","treatment":"Morphine|3 mg·kg⁻¹ +|GP1a|5 mg·kg⁻¹","z":1.6},
{"cytokine":"CCL22","treatment":"Saline +|DMSO","z":2.2},{"cytokine":"CCL22","treatment":"Morphine|3 mg·kg⁻¹ +|DMSO","z":1.5},{"cytokine":"CCL22","treatment":"Saline +|GP1a|5 mg·kg⁻¹","z":1.0},{"cytokine":"CCL22","treatment":"Morphine|3 mg·kg⁻¹ +|GP1a|5 mg·kg⁻¹","z":-1.8},
{"cytokine":"CCL24","treatment":"Saline +|DMSO","z":-0.9},{"cytokine":"CCL24","treatment":"Morphine|3 mg·kg⁻¹ +|DMSO","z":-1.2},{"cytokine":"CCL24","treatment":"Saline +|GP1a|5 mg·kg⁻¹","z":-1.0},{"cytokine":"CCL24","treatment":"Morphine|3 mg·kg⁻¹ +|GP1a|5 mg·kg⁻¹","z":-3.2},
{"cytokine":"CX3CL1/Fractalkine","treatment":"Saline +|DMSO","z":-1.9},{"cytokine":"CX3CL1/Fractalkine","treatment":"Morphine|3 mg·kg⁻¹ +|DMSO","z":-3.4},{"cytokine":"CX3CL1/Fractalkine","treatment":"Saline +|GP1a|5 mg·kg⁻¹","z":-0.8},{"cytokine":"CX3CL1/Fractalkine","treatment":"Morphine|3 mg·kg⁻¹ +|GP1a|5 mg·kg⁻¹","z":-1.5},
{"cytokine":"CXCL1","treatment":"Saline +|DMSO","z":7.0},{"cytokine":"CXCL1","treatment":"Morphine|3 mg·kg⁻¹ +|DMSO","z":7.4},{"cytokine":"CXCL1","treatment":"Saline +|GP1a|5 mg·kg⁻¹","z":6.3},{"cytokine":"CXCL1","treatment":"Morphine|3 mg·kg⁻¹ +|GP1a|5 mg·kg⁻¹","z":7.0},
{"cytokine":"CXCL2/MIP-2","treatment":"Saline +|DMSO","z":5.8},{"cytokine":"CXCL2/MIP-2","treatment":"Morphine|3 mg·kg⁻¹ +|DMSO","z":5.6},{"cytokine":"CXCL2/MIP-2","treatment":"Saline +|GP1a|5 mg·kg⁻¹","z":4.6},{"cytokine":"CXCL2/MIP-2","treatment":"Morphine|3 mg·kg⁻¹ +|GP1a|5 mg·kg⁻¹","z":3.4},
{"cytokine":"CXCL6","treatment":"Saline +|DMSO","z":4.2},{"cytokine":"CXCL6","treatment":"Morphine|3 mg·kg⁻¹ +|DMSO","z":5.8},{"cytokine":"CXCL6","treatment":"Saline +|GP1a|5 mg·kg⁻¹","z":4.0},{"cytokine":"CXCL6","treatment":"Morphine|3 mg·kg⁻¹ +|GP1a|5 mg·kg⁻¹","z":5.0},
{"cytokine":"CXCL10/IP-10","treatment":"Saline +|DMSO","z":4.2},{"cytokine":"CXCL10/IP-10","treatment":"Morphine|3 mg·kg⁻¹ +|DMSO","z":4.5},{"cytokine":"CXCL10/IP-10","treatment":"Saline +|GP1a|5 mg·kg⁻¹","z":3.6},{"cytokine":"CXCL10/IP-10","treatment":"Morphine|3 mg·kg⁻¹ +|GP1a|5 mg·kg⁻¹","z":4.4},
{"cytokine":"CXCL11","treatment":"Saline +|DMSO","z":4.5},{"cytokine":"CXCL11","treatment":"Morphine|3 mg·kg⁻¹ +|DMSO","z":4.0},{"cytokine":"CXCL11","treatment":"Saline +|GP1a|5 mg·kg⁻¹","z":3.6},{"cytokine":"CXCL11","treatment":"Morphine|3 mg·kg⁻¹ +|GP1a|5 mg·kg⁻¹","z":5.4},
{"cytokine":"CXCL12/SDF1α","treatment":"Saline +|DMSO","z":-0.3},{"cytokine":"CXCL12/SDF1α","treatment":"Morphine|3 mg·kg⁻¹ +|DMSO","z":-0.6},{"cytokine":"CXCL12/SDF1α","treatment":"Saline +|GP1a|5 mg·kg⁻¹","z":-0.6},{"cytokine":"CXCL12/SDF1α","treatment":"Morphine|3 mg·kg⁻¹ +|GP1a|5 mg·kg⁻¹","z":-1.8},
{"cytokine":"IL-1α","treatment":"Saline +|DMSO","z":5.0},{"cytokine":"IL-1α","treatment":"Morphine|3 mg·kg⁻¹ +|DMSO","z":3.8},{"cytokine":"IL-1α","treatment":"Saline +|GP1a|5 mg·kg⁻¹","z":1.8},{"cytokine":"IL-1α","treatment":"Morphine|3 mg·kg⁻¹ +|GP1a|5 mg·kg⁻¹","z":2.8},
{"cytokine":"IL-1β","treatment":"Saline +|DMSO","z":3.8},{"cytokine":"IL-1β","treatment":"Morphine|3 mg·kg⁻¹ +|DMSO","z":2.8},{"cytokine":"IL-1β","treatment":"Saline +|GP1a|5 mg·kg⁻¹","z":0.6},{"cytokine":"IL-1β","treatment":"Morphine|3 mg·kg⁻¹ +|GP1a|5 mg·kg⁻¹","z":2.2},
{"cytokine":"IL-4","treatment":"Saline +|DMSO","z":-2.0},{"cytokine":"IL-4","treatment":"Morphine|3 mg·kg⁻¹ +|DMSO","z":-3.6},{"cytokine":"IL-4","treatment":"Saline +|GP1a|5 mg·kg⁻¹","z":-2.4},{"cytokine":"IL-4","treatment":"Morphine|3 mg·kg⁻¹ +|GP1a|5 mg·kg⁻¹","z":0.0},
{"cytokine":"IL-5","treatment":"Saline +|DMSO","z":2.8},{"cytokine":"IL-5","treatment":"Morphine|3 mg·kg⁻¹ +|DMSO","z":2.4},{"cytokine":"IL-5","treatment":"Saline +|GP1a|5 mg·kg⁻¹","z":5.0},{"cytokine":"IL-5","treatment":"Morphine|3 mg·kg⁻¹ +|GP1a|5 mg·kg⁻¹","z":5.3},
{"cytokine":"IL-7","treatment":"Saline +|DMSO","z":-3.2},{"cytokine":"IL-7","treatment":"Morphine|3 mg·kg⁻¹ +|DMSO","z":-3.1},{"cytokine":"IL-7","treatment":"Saline +|GP1a|5 mg·kg⁻¹","z":-2.5},{"cytokine":"IL-7","treatment":"Morphine|3 mg·kg⁻¹ +|GP1a|5 mg·kg⁻¹","z":-2.9},
{"cytokine":"IL-11","treatment":"Saline +|DMSO","z":6.3},{"cytokine":"IL-11","treatment":"Morphine|3 mg·kg⁻¹ +|DMSO","z":5.8},{"cytokine":"IL-11","treatment":"Saline +|GP1a|5 mg·kg⁻¹","z":5.9},{"cytokine":"IL-11","treatment":"Morphine|3 mg·kg⁻¹ +|GP1a|5 mg·kg⁻¹","z":4.8},
{"cytokine":"IL-13","treatment":"Saline +|DMSO","z":4.3},{"cytokine":"IL-13","treatment":"Morphine|3 mg·kg⁻¹ +|DMSO","z":4.1},{"cytokine":"IL-13","treatment":"Saline +|GP1a|5 mg·kg⁻¹","z":5.8},{"cytokine":"IL-13","treatment":"Morphine|3 mg·kg⁻¹ +|GP1a|5 mg·kg⁻¹","z":7.2},
{"cytokine":"IL-15","treatment":"Saline +|DMSO","z":0.05},{"cytokine":"IL-15","treatment":"Morphine|3 mg·kg⁻¹ +|DMSO","z":0.0},{"cytokine":"IL-15","treatment":"Saline +|GP1a|5 mg·kg⁻¹","z":0.8},{"cytokine":"IL-15","treatment":"Morphine|3 mg·kg⁻¹ +|GP1a|5 mg·kg⁻¹","z":1.4},
{"cytokine":"IL-16","treatment":"Saline +|DMSO","z":-0.8},{"cytokine":"IL-16","treatment":"Morphine|3 mg·kg⁻¹ +|DMSO","z":-2.2},{"cytokine":"IL-16","treatment":"Saline +|GP1a|5 mg·kg⁻¹","z":-1.8},{"cytokine":"IL-16","treatment":"Morphine|3 mg·kg⁻¹ +|GP1a|5 mg·kg⁻¹","z":-3.0},
{"cytokine":"IL-17A","treatment":"Saline +|DMSO","z":3.0},{"cytokine":"IL-17A","treatment":"Morphine|3 mg·kg⁻¹ +|DMSO","z":-0.5},{"cytokine":"IL-17A","treatment":"Saline +|GP1a|5 mg·kg⁻¹","z":2.8},{"cytokine":"IL-17A","treatment":"Morphine|3 mg·kg⁻¹ +|GP1a|5 mg·kg⁻¹","z":5.6},
{"cytokine":"IL-17B","treatment":"Saline +|DMSO","z":0.1},{"cytokine":"IL-17B","treatment":"Morphine|3 mg·kg⁻¹ +|DMSO","z":-1.4},{"cytokine":"IL-17B","treatment":"Saline +|GP1a|5 mg·kg⁻¹","z":1.4},{"cytokine":"IL-17B","treatment":"Morphine|3 mg·kg⁻¹ +|GP1a|5 mg·kg⁻¹","z":2.8},
{"cytokine":"IL-21","treatment":"Saline +|DMSO","z":-0.4},{"cytokine":"IL-21","treatment":"Morphine|3 mg·kg⁻¹ +|DMSO","z":0.1},{"cytokine":"IL-21","treatment":"Saline +|GP1a|5 mg·kg⁻¹","z":1.2},{"cytokine":"IL-21","treatment":"Morphine|3 mg·kg⁻¹ +|GP1a|5 mg·kg⁻¹","z":1.8},
{"cytokine":"IL-27","treatment":"Saline +|DMSO","z":3.5},{"cytokine":"IL-27","treatment":"Morphine|3 mg·kg⁻¹ +|DMSO","z":-2.0},{"cytokine":"IL-27","treatment":"Saline +|GP1a|5 mg·kg⁻¹","z":4.6},{"cytokine":"IL-27","treatment":"Morphine|3 mg·kg⁻¹ +|GP1a|5 mg·kg⁻¹","z":5.2},
{"cytokine":"IFN-γ","treatment":"Saline +|DMSO","z":5.6},{"cytokine":"IFN-γ","treatment":"Morphine|3 mg·kg⁻¹ +|DMSO","z":4.6},{"cytokine":"IFN-γ","treatment":"Saline +|GP1a|5 mg·kg⁻¹","z":3.8},{"cytokine":"IFN-γ","treatment":"Morphine|3 mg·kg⁻¹ +|GP1a|5 mg·kg⁻¹","z":4.2},
{"cytokine":"M-CSF","treatment":"Saline +|DMSO","z":1.4},{"cytokine":"M-CSF","treatment":"Morphine|3 mg·kg⁻¹ +|DMSO","z":1.8},{"cytokine":"M-CSF","treatment":"Saline +|GP1a|5 mg·kg⁻¹","z":0.6},{"cytokine":"M-CSF","treatment":"Morphine|3 mg·kg⁻¹ +|GP1a|5 mg·kg⁻¹","z":0.05},
{"cytokine":"GM-CSF","treatment":"Saline +|DMSO","z":6.0},{"cytokine":"GM-CSF","treatment":"Morphine|3 mg·kg⁻¹ +|DMSO","z":5.6},{"cytokine":"GM-CSF","treatment":"Saline +|GP1a|5 mg·kg⁻¹","z":4.6},{"cytokine":"GM-CSF","treatment":"Morphine|3 mg·kg⁻¹ +|GP1a|5 mg·kg⁻¹","z":2.4},
{"cytokine":"G-CSF","treatment":"Saline +|DMSO","z":7.0},{"cytokine":"G-CSF","treatment":"Morphine|3 mg·kg⁻¹ +|DMSO","z":7.0},{"cytokine":"G-CSF","treatment":"Saline +|GP1a|5 mg·kg⁻¹","z":4.5},{"cytokine":"G-CSF","treatment":"Morphine|3 mg·kg⁻¹ +|GP1a|5 mg·kg⁻¹","z":4.4}
]
},
"vconcat": [
{
"title": {"text": "(a)", "anchor": "start", "frame": "bounds", "fontSize": 23, "font": "Liberation Sans", "fontWeight": "bold", "color": "#111", "dy": 30, "dx": -1, "offset": 0},
"data": {"name": "a"},
"width": 533, "height": 490,
"mark": {"type": "rect", "stroke": "#ffffff", "strokeOpacity": 0.15, "strokeWidth": 0.7},
"encoding": {
"y": {"field": "cytokine", "type": "nominal", "sort": null, "title": null},
"x": {"field": "treatment", "type": "nominal", "sort": null, "title": null, "axis": {"orient": "bottom", "labelAngle": 0, "labelAlign": "center", "labelBaseline": "top", "labelExpr": "split(datum.label, '|')", "labelLineHeight": 15, "labelPadding": 7, "labelFontSize": 12, "labelLimit": 0, "labelOverlap": false}},
"color": {"field": "z", "type": "quantitative", "scale": {"domain": [-6.6, 0, 7.8], "range": ["#3ad33a", "#000000", "#e34b42"], "interpolate": "rgb"}, "legend": {"values": [-6, -4, -2, 0, 2, 4, 6], "gradientLength": 480, "title": null}}
}
},
{
"title": {"text": "(b)", "anchor": "start", "frame": "bounds", "fontSize": 23, "font": "Liberation Sans", "fontWeight": "bold", "color": "#111", "dy": 30, "dx": -1, "offset": 0},
"data": {"name": "b"},
"width": 538, "height": 472,
"mark": {"type": "rect", "stroke": "#ffffff", "strokeOpacity": 0.18, "strokeWidth": 0.7},
"encoding": {
"y": {"field": "cytokine", "type": "nominal", "sort": null, "title": null},
"x": {"field": "treatment", "type": "nominal", "sort": null, "title": null, "axis": {"orient": "bottom", "labelAngle": 0, "labelAlign": "center", "labelBaseline": "top", "labelExpr": "split(datum.label, '|')", "labelLineHeight": 15, "labelPadding": 7, "labelFontSize": 12, "labelLimit": 0, "labelOverlap": false}},
"color": {"field": "z", "type": "quantitative", "scale": {"domain": [-3.75, 0, 7.55], "range": ["#3ad33a", "#000000", "#e34b42"], "interpolate": "rgb"}, "legend": {"values": [-3, -2, -1, 0, 1, 2, 3, 4, 5, 6, 7], "gradientLength": 467, "title": null}}
}
}
],
"resolve": {"scale": {"color": "independent", "x": "independent", "y": "independent"}},
"config": {
"view": {"stroke": "#333333", "strokeWidth": 1.5},
"axis": {"labelFont": "Liberation Sans", "labelFontWeight": "bold", "labelFontSize": 11.3, "labelColor": "#111111", "ticks": false, "domain": false, "labelPadding": 4},
"legend": {"gradientThickness": 18, "gradientStrokeColor": "#222222", "gradientStrokeWidth": 1, "labelFont": "Liberation Sans", "labelFontSize": 13, "labelColor": "#222222", "offset": 19, "labelOffset": 5, "padding": 0, "labelOverlap": false}
}
}
